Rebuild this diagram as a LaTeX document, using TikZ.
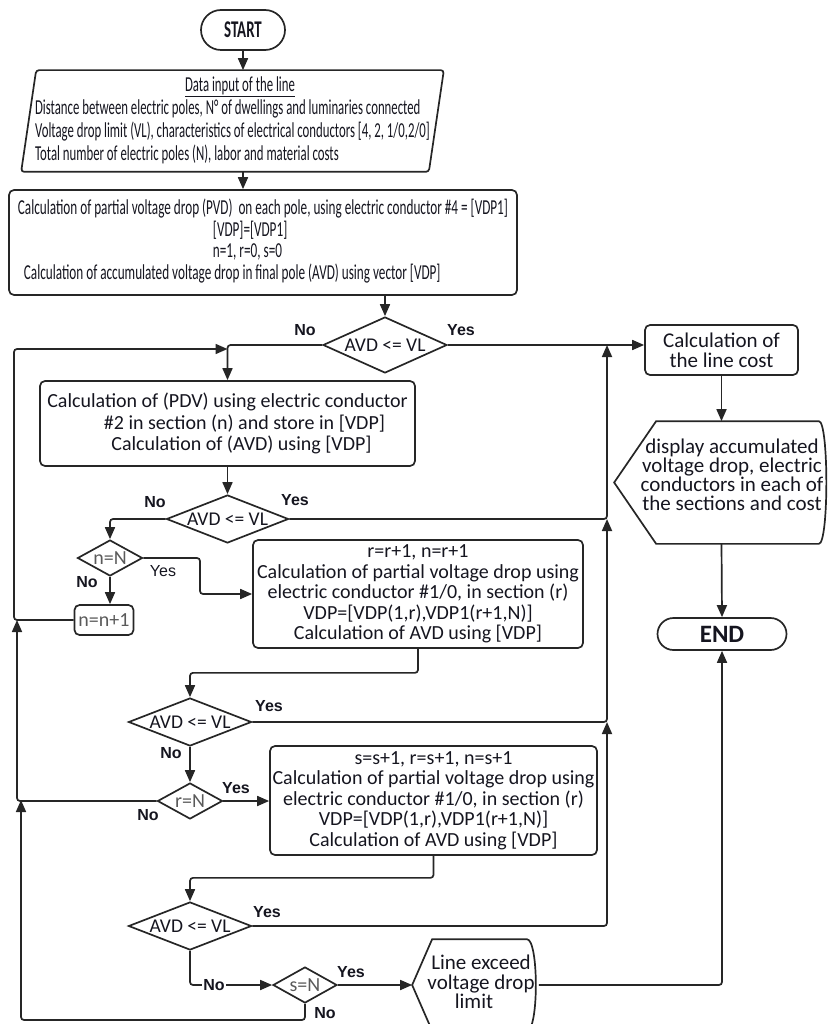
\documentclass[tikz,border=0pt]{standalone}
\usepackage{fontspec}
\setmainfont{Carlito}
\newfontfamily\narrowfont[FakeStretch=0.62]{Carlito}
\newfontfamily\inputfont[FakeStretch=0.6]{Carlito}
\newfontfamily\tagfont{Liberation Sans}
\usetikzlibrary{shapes.geometric,arrows.meta}

\definecolor{ink}{HTML}{262626}
\definecolor{inktext}{HTML}{15151F}
\definecolor{dimtext}{HTML}{5A5A5A}

\tikzstyle{terminal} = [draw, rectangle, inner sep=0pt, font=\bfseries]
\tikzstyle{process} = [draw, rectangle, rounded corners=5pt, inner sep=0pt, align=center, font=\fontsize{20}{20.5}\selectfont]
\tikzstyle{decision} = [draw, diamond, inner sep=0pt, aspect=2.4, font=\fontsize{19.5}{20}\selectfont]
\tikzstyle{smalldecision} = [draw, diamond, inner sep=0pt, aspect=1.8, text=dimtext, minimum width=65pt, minimum height=36pt, font=\fontsize{20}{20}\selectfont]
\tikzstyle{shapebox} = [inner sep=0pt]
\tikzstyle{flow} = [draw, rounded corners=3pt, -{Triangle[length=12pt, width=10pt]}]
\tikzstyle{answer} = [font=\tagfont\bfseries\fontsize{16}{16}\selectfont]
\tikzstyle{answerthin} = [font=\tagfont\fontsize{16}{16}\selectfont]

\begin{document}
\begin{tikzpicture}[x=1pt, y=-1pt, line width=1.7pt, color=ink, text=inktext]
\useasboundingbox (0,0) rectangle (828,1024);

\node[terminal, rounded corners=20pt, minimum width=84pt, minimum height=40pt,
    font=\narrowfont\bfseries\fontsize{24}{24}\selectfont] (start) at (243,30) {START};

% input data of the line
\node[shapebox, minimum width=421pt, minimum height=100pt,
    font=\inputfont\fontsize{21.3}{23}\selectfont] (inp) at (232.5,121) {\begin{tabular}{@{}l@{}}
    \multicolumn{1}{@{}c@{}}{\hspace*{15pt}\underline{Data input of the line}}\\
    Distance between electric poles, N° of dwellings and luminaries connected\\
    Voltage drop limit (VL), characteristics of electrical conductors [4, 2, 1/0,2/0]\\
    Total number of electric poles (N), labor and material costs
    \end{tabular}};
\draw[rounded corners=3pt] ([xshift=15pt]inp.north west) -- (inp.north east)
    -- ([xshift=-15pt]inp.south east) -- (inp.south west) -- cycle;

\node[process, minimum width=508pt, minimum height=105pt,
    font=\narrowfont\fontsize{21.3}{21}\selectfont] (pvd) at (263,242.5) {\begin{tabular}{@{}l@{}}
    Calculation of partial voltage drop (PVD)\ \ on each pole, using electric conductor \#4 = [VDP1]\\
    \hspace*{195pt}[VDP]=[VDP1]\\
    \hspace*{195pt}n=1, r=0, s=0\\
    \hspace*{6pt}Calculation of accumulated voltage drop in final pole (AVD) using vector [VDP]
    \end{tabular}};

\node[decision, minimum width=124pt, minimum height=56pt] (d1) at (385,345) {AVD <= VL};

% conductor #2
\node[process, minimum width=375pt, minimum height=85pt, font=\fontsize{20}{21.5}\selectfont]
    (pdv) at (227.5,423.5) {Calculation of (PDV) using electric conductor\\
    \hspace*{34pt}\#2 in section (n) and store in [VDP]\\
    \hspace*{28pt}Calculation of (AVD) using [VDP]};
\node[decision, minimum width=122pt, minimum height=48pt] (d2) at (227.5,519) {AVD <= VL};
\node[smalldecision] (nn) at (110,558) {n=N};
\node[process, text=dimtext, minimum width=59pt, minimum height=30pt] (inc) at (104,620) {n=n+1};

% conductor #1/0
\node[process, minimum width=330pt, minimum height=108pt] (sec1) at (418,594) {r=r+1, n=r+1\\
    Calculation of partial voltage drop using\\
    electric conductor \#1/0, in section (r)\\
    VDP=[VDP(1,r),VDP1(r+1,N)]\\
    Calculation of AVD using [VDP]};
\node[decision, minimum width=123pt, minimum height=48pt] (d3) at (190,722) {AVD <= VL};
\node[smalldecision] (rn) at (190,801) {r=N};

\node[process, minimum width=327pt, minimum height=109pt] (sec2) at (433.5,800.5) {s=s+1, r=s+1, n=s+1\\
    Calculation of partial voltage drop using\\
    electric conductor \#1/0, in section (r)\\
    VDP=[VDP(1,r),VDP1(r+1,N)]\\
    Calculation of AVD using [VDP]};
\node[decision, minimum width=123pt, minimum height=48pt] (d4) at (190,926) {AVD <= VL};
\node[smalldecision, minimum width=64pt] (sn) at (305,985) {s=N};

% line exceed
\node[shapebox, minimum width=125pt, minimum height=90pt] (lim) at (475.5,985) {};
\draw ([xshift=20pt]lim.north west) -- ([xshift=-12pt]lim.north east)
    .. controls (lim.north east) and (lim.south east) .. ([xshift=-12pt]lim.south east)
    -- ([xshift=20pt]lim.south west) -- (lim.west) -- cycle;
\node[align=center, font=\fontsize{21}{19.5}\selectfont] (limt) at (481,982) {Line exceed\\voltage drop\\limit\hspace*{14pt}};

% right column
\node[process, minimum width=153pt, minimum height=50pt, font=\fontsize{21}{20}\selectfont]
    (cost) at (721.5,350) {Calculation of\\the line cost};
\node[shapebox, minimum width=213pt, minimum height=121pt] (disp) at (721.5,482.5) {};
\draw ([xshift=42pt]disp.north west) -- ([xshift=-10pt]disp.north east)
    .. controls (disp.north east) and (disp.south east) .. ([xshift=-10pt]disp.south east)
    -- ([xshift=42pt]disp.south west) -- (disp.west) -- cycle;
\node[align=center, font=\fontsize{21}{19}\selectfont] (dispt) at (732,475) {display accumulated\\
    voltage drop, electric\\conductors in each of\\the sections and cost};
\node[terminal, rounded corners=16pt, minimum width=129pt, minimum height=32pt,
    font=\bfseries\fontsize{25}{25}\selectfont] (stop) at (722,634) {END};

\coordinate (rail) at (607,0);
\coordinate (loopA) at (14,349);
\coordinate (nj) at (200,558);

% connectors
\draw[flow] (start) -- (start |- inp.north);
\draw[flow] (start |- inp.south) -- (start |- pvd.north);
\draw[flow] (d1 |- pvd.south) -- (d1.north);
\draw[flow] (d1.east) -- (d1.east -| cost.west);
\draw[flow] (cost.south) -- (disp.north);
\draw[flow] (disp.south) -- (stop.north);
\draw[flow] (d1.west) -| (pdv.north);
\draw[flow] (pdv.south) -- (d2.north);
\draw[flow] (d2.east) -| (rail |- d1.east);
\draw[flow] (d2.west) -| (nn.north);
\draw[flow] (nn.east) -- (nj) |- (sec1.west);
\draw[flow] (nn.south) -- (nn.south |- inc.north);
\draw[flow] (inc.west) -| (loopA) -- (loopA -| pdv.north);
\draw[flow] (sec1.south) -- ++(0,24) -| (d3.north);
\draw[flow] (d3.east) -| (rail |- d2.east);
\draw[flow] (d3.south) -- (rn.north);
\draw[flow] (rn.east) -- (rn.east -| sec2.west);
\draw[flow] (rn.west) -| (17,620);
\draw[flow] (sec2.south) -- ++(0,22) -| (d4.north);
\draw[flow] (d4.east) -| (rail |- d3.east);
\draw[flow] (d4.south) |- (sn.west);
\draw[flow] (sn.east) -- (lim.west);
\draw[flow] (sn.south) |- (21,1020) -- (21,800);
\draw[flow] (lim.east) -| (stop.south);

% yes / no
\node[answer] (no1) at (305,330) {No};
\node[answer] (yes1) at (461,330) {Yes};
\node[answer] (no2) at (155,502) {No};
\node[answer] (yes2) at (295,500) {Yes};
\node[answer] (no3) at (87,582) {No};
\node[answerthin] (yes3) at (163,571) {Yes};
\node[answer] (no4) at (171,753) {No};
\node[answer] (yes4) at (269,706) {Yes};
\node[answer] (no5) at (148,815) {No};
\node[answer] (yes5) at (236,788) {Yes};
\node[answer, fill=white, inner sep=1pt] (no6) at (214,985) {No};
\node[answer] (yes6) at (267,912) {Yes};
\node[answer] (no7) at (325,1013) {No};
\node[answer] (yes7) at (351,972) {Yes};
\end{tikzpicture}
\end{document}
